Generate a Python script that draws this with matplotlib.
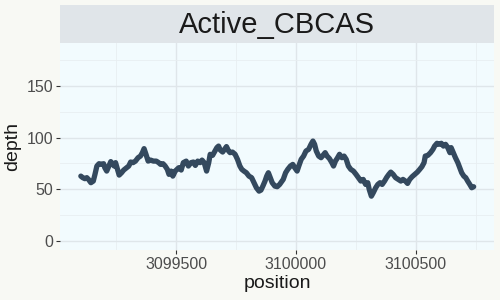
import matplotlib
matplotlib.use("Agg")
import matplotlib.pyplot as plt

plt.rcParams['font.family'] = ['Liberation Sans', 'DejaVu Sans']

# values (position in bp, read depth)
position = [3099102, 3099110, 3099119, 3099127, 3099134, 3099144, 3099154, 3099161, 3099169, 3099178,
            3099189, 3099197, 3099202, 3099210, 3099219, 3099227, 3099234, 3099241, 3099247, 3099255,
            3099262, 3099272, 3099281, 3099293, 3099302, 3099310, 3099320, 3099330, 3099341, 3099351,
            3099359, 3099366, 3099374, 3099383, 3099393, 3099405, 3099417, 3099427, 3099435, 3099445,
            3099454, 3099463, 3099470, 3099479, 3099486, 3099496,
            3099511, 3099521, 3099530, 3099542, 3099551, 3099562, 3099572, 3099580, 3099590, 3099600,
            3099608, 3099617, 3099627, 3099636, 3099642, 3099652, 3099662, 3099670, 3099677, 3099684,
            3099694, 3099702, 3099710, 3099719, 3099725, 3099735, 3099746, 3099756, 3099766, 3099774,
            3099783, 3099793, 3099804, 3099815, 3099825, 3099835, 3099846, 3099854, 3099862, 3099871,
            3099878, 3099885, 3099893, 3099901, 3099912, 3099922, 3099932,
            3099947, 3099957, 3099966, 3099977, 3099987, 3099995, 3100005, 3100012, 3100022, 3100032,
            3100042, 3100053, 3100063, 3100071, 3100078, 3100085, 3100095, 3100105, 3100113, 3100122,
            3100130, 3100140, 3100150, 3100157, 3100165, 3100174, 3100182, 3100192, 3100201, 3100210,
            3100219, 3100229, 3100240, 3100251, 3100261, 3100271, 3100281, 3100291, 3100300, 3100306,
            3100315, 3100323, 3100333, 3100342, 3100351, 3100360, 3100370,
            3100379, 3100388, 3100396, 3100406, 3100416, 3100427, 3100438, 3100447, 3100457, 3100466,
            3100475, 3100485, 3100496, 3100507, 3100517, 3100526, 3100535, 3100540, 3100551, 3100562,
            3100572, 3100579, 3100589, 3100597, 3100607, 3100616, 3100625, 3100634, 3100643, 3100648,
            3100657, 3100666, 3100676, 3100684, 3100692, 3100701, 3100709, 3100717, 3100726, 3100734,
            3100742]
depth = [62.6, 61.1, 60.1, 61.1, 59.4, 56.2, 57.8, 64.3, 72.4, 74.7,
         74.0, 74.7, 70.8, 67.5, 72.4, 76.7, 74.7, 72.4, 75.7, 69.2,
         63.6, 65.9, 68.5, 70.8, 72.4, 76.3, 75.7, 77.2, 80.5, 82.1,
         85.4, 89.3, 83.8, 77.2, 78.2, 77.2, 77.2, 75.7, 74.0, 74.7,
         72.4, 69.2, 64.3, 67.5, 62.6, 67.5,
         70.8, 68.5, 75.7, 77.2, 72.4, 75.7, 76.3, 73.0, 77.2, 75.7,
         78.2, 75.7, 67.5, 75.7, 83.8, 82.8, 87.0, 90.3, 91.8, 88.0,
         86.0, 88.6, 91.3, 87.0, 85.4, 86.0, 83.8, 78.9, 72.4, 69.2,
         67.5, 65.9, 62.6, 61.1, 56.2, 51.3, 48.0, 49.0, 52.9, 57.8,
         62.6, 65.9, 61.1, 56.2, 52.9, 52.3, 54.5,
         59.4, 65.9, 69.2, 72.4, 74.0, 70.8, 67.5, 72.4, 78.9, 82.1,
         87.0, 88.6, 93.5, 96.7, 93.5, 87.0, 82.1, 80.5, 82.8, 85.4,
         82.1, 79.6, 75.7, 72.4, 77.2, 80.5, 83.8, 80.5, 82.1, 78.9,
         72.4, 69.2, 67.5, 64.3, 61.1, 57.8, 59.4, 54.5, 56.2, 49.7,
         43.1, 46.5, 51.3, 54.5, 56.2, 54.5, 57.8,
         61.4, 64.3, 66.5, 64.3, 61.1, 59.4, 57.8, 59.4, 57.8, 55.5,
         59.4, 62.0, 64.3, 66.5, 69.2, 71.8, 75.7, 82.1, 82.8, 85.4,
         88.6, 91.8, 94.5, 93.5, 94.5, 91.8, 93.5, 90.3, 85.4, 90.3,
         85.4, 80.5, 75.7, 70.8, 65.9, 62.6, 61.1, 57.8, 54.5, 51.3,
         52.3]

xticks = [3099500, 3100000, 3100500]
xminor = [3099250, 3099750, 3100250, 3100750]
yticks = [0, 50, 100, 150]
yminor = [25, 75, 125, 175]
title = "Active_CBCAS"

fig = plt.figure(figsize=(5, 3), dpi=100)
fig.patch.set_facecolor('#F8F9F4')

ax = fig.add_axes([0.12, 0.1667, 0.868, 0.69])
ax.set_facecolor('#F2FBFE')
ax.plot(position, depth, color='#34495E', lw=3.8, solid_capstyle='round', solid_joinstyle='round')

ax.set_xlim(3099015, 3100827)
ax.set_ylim(-9.2, 192)
ax.set_xticks(xticks)
ax.set_xticklabels([str(t) for t in xticks])
ax.set_yticks(yticks)
ax.set_xticks(xminor, minor=True)
ax.set_yticks(yminor, minor=True)
ax.grid(which='major', color='#DFE6EA', lw=1.0)
ax.grid(which='minor', color='#E8EEF1', lw=0.6)
ax.set_axisbelow(True)
for s in ax.spines.values():
    s.set_visible(False)
ax.tick_params(which='major', length=3, width=0.8, color='#333333', labelcolor='#4D4D4D',
               labelsize=11.5, pad=2)
ax.tick_params(which='minor', length=0)
ax.set_xlabel('position', fontsize=14, color='#1A1A1A', labelpad=2)
ax.set_ylabel('depth', fontsize=14, color='#1A1A1A', labelpad=4)

# facet strip
sax = fig.add_axes([0.12, 0.857, 0.868, 0.127])
sax.set_facecolor('#E0E5E9')
sax.set_xticks([]); sax.set_yticks([])
for s in sax.spines.values():
    s.set_visible(False)
sax.text(0.5, 0.48, title, ha='center', va='center', fontsize=21, color='#1A1A1A',
         transform=sax.transAxes)

fig.savefig('out.png', dpi=100, facecolor=fig.get_facecolor())
